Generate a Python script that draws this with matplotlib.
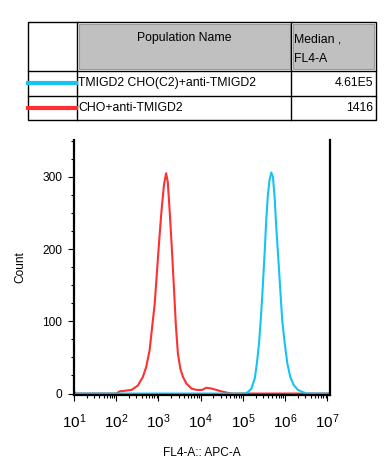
import matplotlib
matplotlib.use("Agg")
import matplotlib.pyplot as plt
from matplotlib.patches import Rectangle
from matplotlib.ticker import LogLocator, MultipleLocator, FixedLocator, NullFormatter
import numpy as np

plt.rcParams['font.family'] = ['Liberation Sans', 'DejaVu Sans']
plt.rcParams['font.size'] = 8.6

# FL4-A intensity (bin positions) and event counts
red_fl4 = [10, 11, 100, 120, 229, 324, 427, 513, 617, 692, 813, 912, 1023, 1175,
           1349, 1514, 1660, 1862, 2089, 2344, 2570, 2884, 3311, 3802, 4571, 6026,
           7943, 10715, 13490, 17783, 23442, 30903, 43652, 56234, 11200000]
red_count = [3, 0, 0, 3, 5, 11, 23, 37, 60, 87, 124, 165, 206, 252,
             289, 305, 293, 248, 197, 142, 96, 55, 34, 23, 14, 7,
             5, 5, 8, 7, 5, 3, 1, 0, 0]

blue_fl4 = [10, 112200, 131800, 158500, 190500, 213800, 239900, 263000, 288400,
            309000, 331100, 354800, 389000, 426600, 467700, 512900, 562300,
            616600, 691800, 776200, 851100, 977200, 1122000, 1318000, 1585000,
            1995000, 2630000, 3160000, 11200000]
blue_count = [0, 0, 2, 7, 21, 42, 69, 101, 138, 170, 202, 239, 275, 296, 306,
              300, 271, 229, 184, 138, 101, 69, 42, 23, 12, 5, 2, 0, 0]

pop_names = ["TMIGD2 CHO(C2)+anti-TMIGD2", "CHO+anti-TMIGD2"]
pop_medians = ["4.61E5", "1416"]
pop_colors = ["#14c4f2", "#ff3030"]

x_decades = [1, 2, 3, 4, 5, 6, 7]

W, H = 386, 476
fig = plt.figure(figsize=(W / 100, H / 100), dpi=100)

# ---- statistics table drawn in pixel space ----
tab = fig.add_axes([0, 0, 1, 1])
tab.set_xlim(0, W)
tab.set_ylim(H, 0)
tab.axis("off")

tx0, tx1, ty0, ty1 = 27.5, 375.5, 22, 120
c1, c2 = 76.5, 291
r1, r2 = 70.5, 95.5
tab.add_patch(Rectangle((78.5, 23.5), 211, 45.5, facecolor="#c0c0c0",
                        edgecolor="#9a9a9a", lw=0.8))
tab.add_patch(Rectangle((292.5, 23.5), 81.5, 45.5, facecolor="#c0c0c0",
                        edgecolor="#9a9a9a", lw=0.8))
tab.add_patch(Rectangle((tx0, ty0), tx1 - tx0, ty1 - ty0, fill=False,
                        edgecolor="black", lw=1))
for x in [c1, c2]:
    tab.plot([x, x], [ty0, ty1], color="black", lw=1)
for y in [r1, r2]:
    tab.plot([tx0, tx1], [y, y], color="black", lw=1)

tab.text(184, 38.5, "Population Name", ha="center", va="center", fontsize=8.8)
tab.text(294, 40, "Median ,", ha="left", va="center", fontsize=8.8)
tab.text(294, 59, "FL4-A", ha="left", va="center", fontsize=8.8)
row_y = [83, 108]
for name, med, col, y in zip(pop_names, pop_medians, pop_colors, row_y):
    tab.plot([tx0 + 0.5, c1 - 0.5], [y - 0.5, y - 0.5], color=col, lw=3)
    tab.text(78.5, y, name, ha="left", va="center", fontsize=8.8)
    tab.text(373, y, med, ha="right", va="center", fontsize=8.8)

# ---- histogram ----
ax = fig.add_axes([74 / W, 1 - 395 / H, 256 / W, 255 / H])
ax.plot(red_fl4, red_count, color=pop_colors[1], lw=1.5)
ax.plot(blue_fl4, blue_count, color=pop_colors[0], lw=1.5)

ax.set_xscale("log")
ax.set_xlim(10, 1.15e7)
ax.set_ylim(-2, 351)

ax.xaxis.set_major_locator(FixedLocator([10.0 ** d for d in x_decades]))
ax.set_xticklabels([r"$\mathregular{10^{%d}}$" % d for d in x_decades])
ax.xaxis.set_minor_locator(LogLocator(base=10, subs=np.arange(2, 10), numticks=20))
ax.xaxis.set_minor_formatter(NullFormatter())
ax.yaxis.set_major_locator(FixedLocator([0, 100, 200, 300]))
ax.yaxis.set_minor_locator(MultipleLocator(25))

ax.spines["top"].set_visible(False)
for s in ["left", "bottom", "right"]:
    ax.spines[s].set_linewidth(1.6)

ax.tick_params(which="major", length=4.5, width=0.8, pad=4, labelsize=8.6)
ax.tick_params(which="minor", length=2.5, width=0.8)
ax.tick_params(axis="x", which="major", labelsize=11, pad=8)

ax.set_xlabel("FL4-A:: APC-A")
ax.set_ylabel("Count")
ax.xaxis.set_label_coords(0.5, -0.226)
ax.xaxis.label.set_va("center")
ax.yaxis.set_label_coords(-0.211, 0.5)
ax.yaxis.label.set_va("center")

fig.savefig("out.png", dpi=100)
